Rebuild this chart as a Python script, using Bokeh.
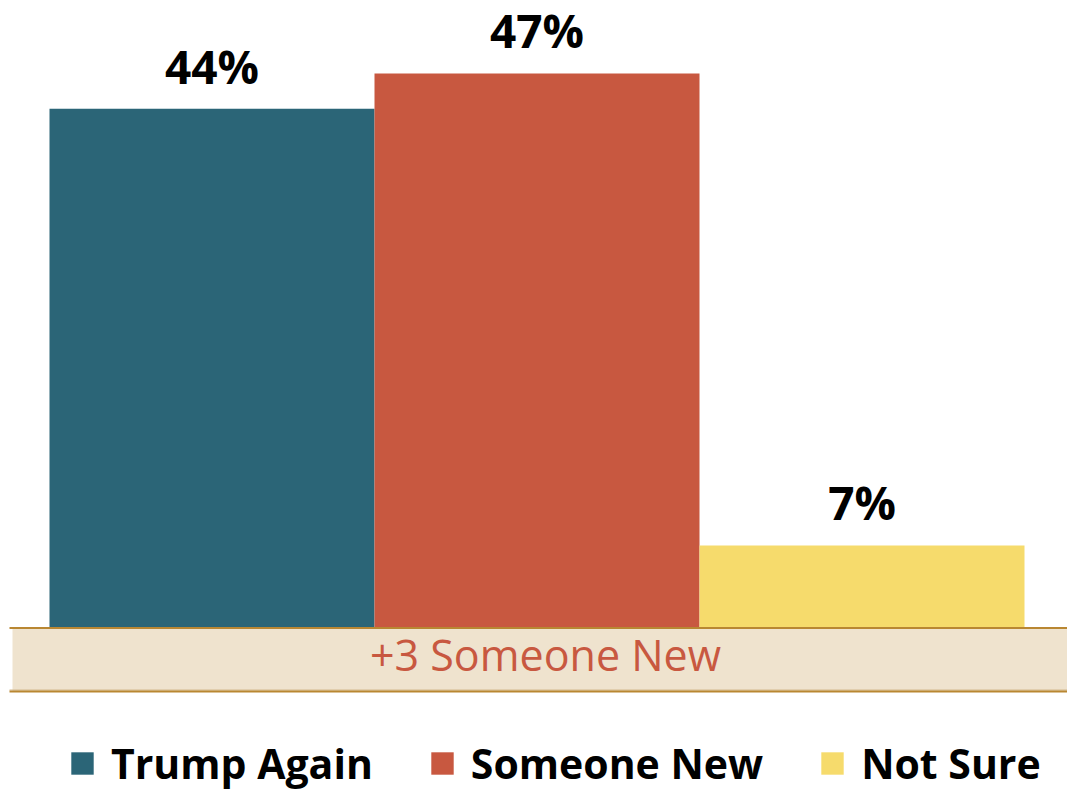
from bokeh.plotting import figure
from bokeh.models import ColumnDataSource, LabelSet, Legend, LegendItem, Label, Range1d
from bokeh.core.properties import value
from bokeh.embed import file_html
from bokeh.resources import INLINE

categories = ["Trump Again", "Someone New", "Not Sure"]
values = [44, 47, 7]
labels = ["44%", "47%", "7%"]
colors = ["#2B6577", "#C85840", "#F6DB6C"]
margin_text = "+3 Someone New"

W, H = 1067, 790
PX_PER_UNIT = 11.8
ZERO_Y = 627.5
BAR_PX = 325.0
FIRST_CENTER = 211.5

y_end = ZERO_Y / PX_PER_UNIT
y_start = -(H - ZERO_Y) / PX_PER_UNIT
x_start = -FIRST_CENTER / BAR_PX
x_end = (W - FIRST_CENTER) / BAR_PX

xs = list(range(len(categories)))
src = ColumnDataSource(dict(x=xs, top=values, label=labels))

p = figure(width=W, height=H, output_backend="svg", toolbar_location=None,
           x_range=Range1d(x_start, x_end), y_range=Range1d(y_start, y_end),
           min_border=0, min_border_left=0, min_border_right=0,
           min_border_top=0, min_border_bottom=0)
p.axis.visible = False
p.grid.visible = False
p.outline_line_color = None
p.background_fill_color = "white"
p.border_fill_color = "white"

# band under baseline
band_bottom = -(691 - 627.5) / PX_PER_UNIT
band_left = x_start + 12 / BAR_PX
line_left = x_start + 9 / BAR_PX
p.quad(left=band_left, right=x_end, top=0, bottom=band_bottom,
       fill_color="#EFE3CE", line_color=None)
p.segment(x0=line_left, x1=x_end, y0=band_bottom + 1.5 / PX_PER_UNIT, y1=band_bottom + 1.5 / PX_PER_UNIT,
          line_color="#D3B98F", line_width=1)
p.segment(x0=line_left, x1=x_end, y0=band_bottom, y1=band_bottom,
          line_color="#B98732", line_width=2)

renderers = []
for i, c in enumerate(categories):
    s = ColumnDataSource(dict(x=[xs[i]], top=[values[i]]))
    r = p.vbar(x="x", top="top", bottom=0, width=1.0, source=s,
               fill_color=colors[i], line_color=None)
    renderers.append(r)

p.segment(x0=line_left, x1=x_end, y0=0, y1=0, line_color="#B98732", line_width=2)

p.add_layout(LabelSet(x="x", y="top", text="label", source=src, y_offset=25,
                      text_align="center", text_baseline="alphabetic",
                      text_font=value("Open Sans"), text_font_style="bold",
                      text_font_size="46px", text_color="black"))

p.add_layout(Label(x=(545 - FIRST_CENTER) / BAR_PX, y=-(654 - 627.5) / PX_PER_UNIT,
                   text=margin_text, text_align="center", text_baseline="alphabetic",
                   text_font="Open Sans", text_font_size="43px", text_color="#C85840"))

legend = Legend(items=[LegendItem(label=c, renderers=[r]) for c, r in zip(categories, renderers)],
                orientation="horizontal", location=(68, -1),
                glyph_width=28, glyph_height=28, label_standoff=15, spacing=55,
                label_text_font="Open Sans", label_text_font_style="bold",
                label_text_font_size="41px", label_text_color="black",
                padding=0, margin=0, border_line_color=None, background_fill_alpha=0)
p.add_layout(legend)

open("out.html", "w").write(file_html(p, INLINE))
